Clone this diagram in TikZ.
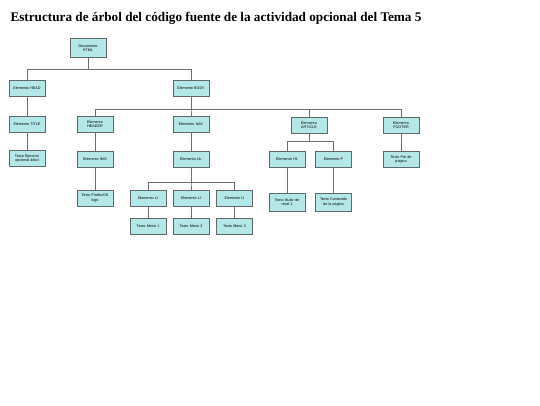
\documentclass[tikz,border=0pt]{standalone}
\usepackage{fontspec}
\setmainfont{Liberation Serif}
\setsansfont{Liberation Sans}
\usepackage{tikz}
\usetikzlibrary{shadows}
\definecolor{cajafondo}{RGB}{180,232,232}
\definecolor{cajaborde}{RGB}{95,105,105}
\definecolor{rama}{RGB}{110,110,110}
\tikzset{
	caja/.style={draw=cajaborde, line width=0.55pt, fill=cajafondo, inner sep=1pt,
		minimum width=36pt, minimum height=16pt, text width=34pt, align=center,
		font=\sffamily\fontsize{3.7}{4.5}\selectfont,
		drop shadow={opacity=0.35, shadow xshift=0.5pt, shadow yshift=-0.5pt}},
	rama/.style={draw=rama, line width=0.55pt}
}

\begin{document}
\begin{tikzpicture}[x=1pt, y=-1pt]
			%%%%% START %%%%%
			\useasboundingbox (0, 0) rectangle (540, 405);
			
			\node[anchor=base west, font=\bfseries\fontsize{13.2}{15}\selectfont] (titulo) at (7, 21) {Estructura de árbol del código fuente de la actividad opcional del Tema 5};
			
			\node[caja, minimum height=19pt] (doc) at (88, 48) {Documento\\HTML};
			
			\node[caja] (head) at (27, 88) {Elemento HEAD};
			\node[caja] (title) at (27, 124) {Elemento TITLE};
			\node[caja] (txtejer) at (27, 158.5) {Texto Ejercicio\\opcional árbol};
			
			\node[caja] (body) at (191, 88) {Elemento BODY};
			
			\node[caja] (header) at (95, 124) {Elemento\\HEADER};
			\node[caja] (img) at (95, 159) {Elemento IMG};
			\node[caja] (txtlogo) at (95, 198) {Texto FirefoxOS\\logo};
			
			\node[caja] (nav) at (191, 124) {Elemento NAV};
			\node[caja] (ul) at (191, 159) {Elemento UL};
			\node[caja] (lia) at (148, 198.5) {Elemento LI};
			\node[caja] (lib) at (191, 198.5) {Elemento LI};
			\node[caja] (lic) at (234.5, 198.5) {Elemento LI};
			\node[caja] (menua) at (148, 226) {Texto Menú 1};
			\node[caja] (menub) at (191, 226) {Texto Menú 2};
			\node[caja] (menuc) at (234.5, 226) {Texto Menú 3};
			
			\node[caja] (article) at (309, 125) {Elemento\\ARTICLE};
			\node[caja] (hone) at (287, 159.5) {Elemento H1};
			\node[caja] (para) at (333.5, 159.5) {Elemento P};
			\node[caja, minimum height=18pt] (txttit) at (287, 202) {Texto titular de\\nivel 1};
			\node[caja, minimum height=18pt] (txtcont) at (333.5, 202) {Texto Contenido\\de la página};
			
			\node[caja] (footer) at (401, 125) {Elemento\\FOOTER};
			\node[caja] (txtpie) at (401, 159.5) {Texto Pie de\\página};
			
			% ramas
			\draw[rama] (doc.south) -- ++(0, 11) -| (head.north);
			\draw[rama] (doc.south) -- ++(0, 11) -| (body.north);
			\draw[rama] (head) -- (title);
			\draw[rama] (title) -- (txtejer);
			
			\foreach \hijo in {header, nav, article, footer}
				\draw[rama] (body.south) -- ++(0, 13) -| (\hijo.north);
			\draw[rama] (header) -- (img);
			\draw[rama] (img) -- (txtlogo);
			\draw[rama] (nav) -- (ul);
			\foreach \hijo in {lia, lib, lic}
				\draw[rama] (ul.south) -- ++(0, 15) -| (\hijo.north);
			\draw[rama] (lia) -- (menua);
			\draw[rama] (lib) -- (menub);
			\draw[rama] (lic) -- (menuc);
			
			\draw[rama] (article.south) -- ++(0, 8) -| (hone.north);
			\draw[rama] (article.south) -- ++(0, 8) -| (para.north);
			\draw[rama] (hone) -- (txttit);
			\draw[rama] (para) -- (txtcont);
			\draw[rama] (footer) -- (txtpie);
			
			%%%%% END %%%%%
\end{tikzpicture}
\end{document}
